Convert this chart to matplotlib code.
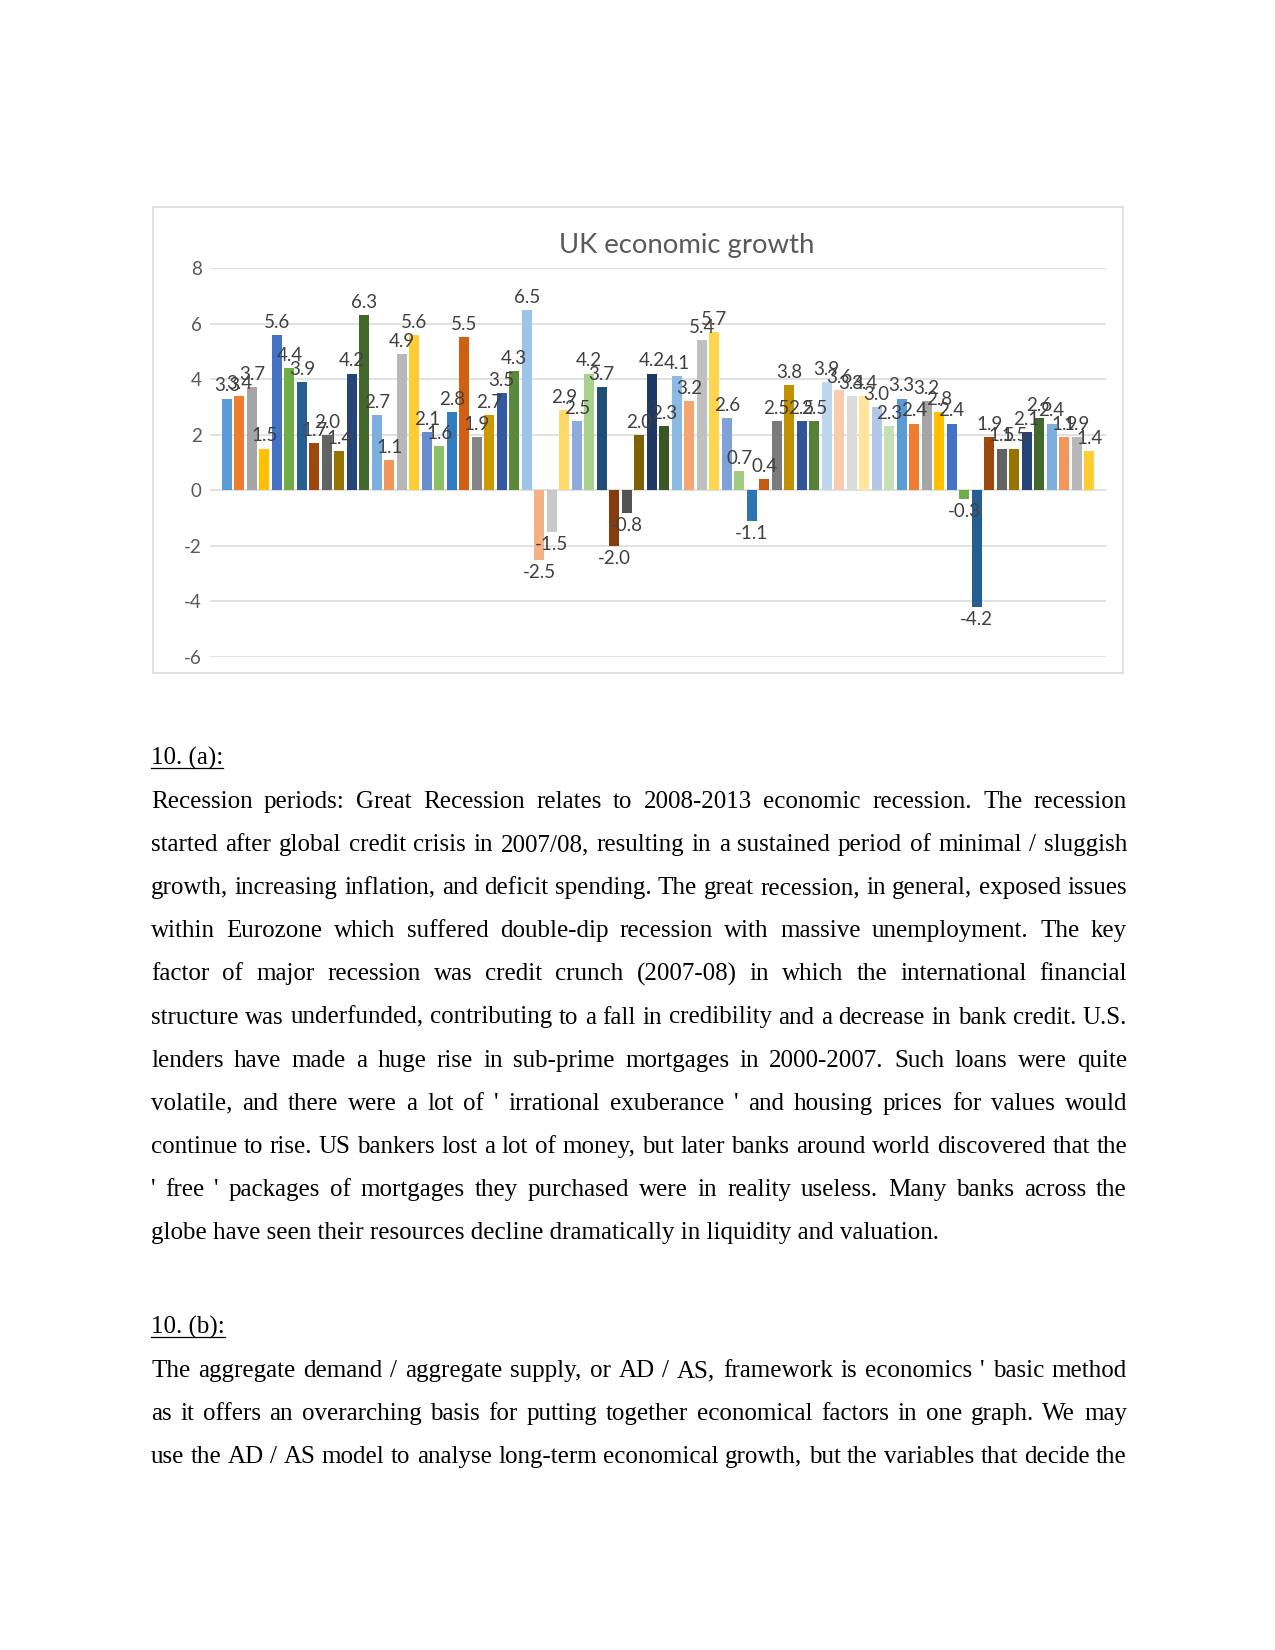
import matplotlib
matplotlib.use("Agg")
import matplotlib.pyplot as plt
from matplotlib.patches import Rectangle
from matplotlib.lines import Line2D

plt.rcParams["axes.unicode_minus"] = False

# ── data ──────────────────────────────────────────────────────────────────────
YEARS = list(range(1949, 2019))
GROWTH = [
    3.3, 3.4, 3.7, 1.5, 5.6, 4.4, 3.9, 1.7, 2.0, 1.4,
    4.2, 6.3, 2.7, 1.1, 4.9, 5.6, 2.1, 1.6, 2.8, 5.5,
    1.9, 2.7, 3.5, 4.3, 6.5, -2.5, -1.5, 2.9, 2.5, 4.2,
    3.7, -2.0, -0.8, 2.0, 4.2, 2.3, 4.1, 3.2, 5.4, 5.7,
    2.6, 0.7, -1.1, 0.4, 2.5, 3.8, 2.5, 2.5, 3.9, 3.6,
    3.4, 3.4, 3.0, 2.3, 3.3, 2.4, 3.2, 2.8, 2.4, -0.3,
    -4.2, 1.9, 1.5, 1.5, 2.1, 2.6, 2.4, 1.9, 1.9, 1.4,
]
TITLE = "UK economic growth"
Y_TICKS = [-6, -4, -2, 0, 2, 4, 6, 8]

# Excel series colour cycle (accents, then shades / tints)
PALETTE = [
    "#5B9BD5", "#ED7D31", "#A5A5A5", "#FFC000", "#4472C4", "#70AD47",
    "#255E91", "#9E480E", "#636363", "#997300", "#264478", "#43682B",
    "#7CAFDD", "#F1975A", "#B7B7B7", "#FFCD33", "#698ED0", "#8CC168",
    "#327DC2", "#D26012", "#848484", "#CC9A00", "#335AA1", "#5A8A39",
    "#9DC3E6", "#F4B183", "#C9C9C9", "#FFD966", "#8FAADC", "#A9D18E",
    "#1F4E79", "#843C0C", "#525252", "#7F6000", "#203864", "#385723",
    "#8CB9E2", "#F4A570", "#C0C0C0", "#FFD54F", "#7FA0D8", "#9FCB81",
    "#2E75B6", "#C55A11", "#7B7B7B", "#BF9000", "#2F5597", "#538135",
    "#BDD7EE", "#F8CBAD", "#DBDBDB", "#FFE699", "#B4C7E7", "#C5E0B4",
]

PARA_A_HEAD = "10. (a):"
PARA_A = [
    "Recession periods: Great Recession relates to 2008-2013 economic recession. The recession",
    "started after global credit crisis in 2007/08, resulting in a sustained period of minimal / sluggish",
    "growth, increasing inflation, and deficit spending. The great recession, in general, exposed issues",
    "within Eurozone which suffered double-dip recession with massive unemployment. The key",
    "factor of major recession was credit crunch (2007-08) in which the international financial",
    "structure was underfunded, contributing to a fall in credibility and a decrease in bank credit. U.S.",
    "lenders have made a huge rise in sub-prime mortgages in 2000-2007. Such loans were quite",
    "volatile, and there were a lot of ' irrational exuberance ' and housing prices for values would",
    "continue to rise. US bankers lost a lot of money, but later banks around world discovered that the",
    "' free ' packages of mortgages they purchased were in reality useless. Many banks across the",
    "globe have seen their resources decline dramatically in liquidity and valuation.",
]
PARA_B_HEAD = "10. (b):"
PARA_B = [
    "The aggregate demand / aggregate supply, or AD / AS, framework is economics ' basic method",
    "as it offers an overarching basis for putting together economical factors in one graph. We may",
    "use the AD / AS model to analyse long-term economical growth, but the variables that decide the",
]

W, H = 1275, 1650
TEXT_LEFT, TEXT_RIGHT = 151, 1127
LINE_GAP = 43.1
SERIF = "Liberation Serif"


def fx(px):
    return px / W


def fy(py):
    return 1 - py / H


def draw_justified(fig, renderer, line, baseline, justify=True):
    if not justify:
        fig.text(fx(TEXT_LEFT), fy(baseline), line, family=SERIF, fontsize=12,
                 ha="left", va="baseline", color="black")
        return
    words = line.split(" ")
    texts = [fig.text(0, fy(baseline), w, family=SERIF, fontsize=12,
                      ha="left", va="baseline", color="black") for w in words]
    widths = [t.get_window_extent(renderer).width for t in texts]
    gap = (TEXT_RIGHT - TEXT_LEFT - sum(widths)) / max(len(words) - 1, 1)
    x = TEXT_LEFT
    for t, w in zip(texts, widths):
        t.set_x(fx(x))
        x += w + gap


def draw_heading(fig, renderer, label, baseline):
    t = fig.text(fx(TEXT_LEFT), fy(baseline), label, family=SERIF, fontsize=12,
                 ha="left", va="baseline", color="black")
    w = t.get_window_extent(renderer).width
    fig.add_artist(Line2D([fx(TEXT_LEFT), fx(TEXT_LEFT + w)],
                          [fy(baseline + 3), fy(baseline + 3)],
                          transform=fig.transFigure, color="black", lw=0.6))


def main():
    fig = plt.figure(figsize=(W / 150, H / 150), dpi=150)
    renderer = fig.canvas.get_renderer()

    # chart border
    fig.add_artist(Rectangle((fx(153), fy(673)), fx(1123) - fx(153), fy(207) - fy(673),
                             transform=fig.transFigure, fill=False,
                             edgecolor="#D9D9D9", lw=0.75))

    ax = fig.add_axes([fx(210), fy(657), fx(1106) - fx(210), fy(268) - fy(657)])
    xs = list(range(len(GROWTH)))
    colors = [PALETTE[i % len(PALETTE)] for i in xs]
    bars = ax.bar(xs, GROWTH, width=0.8, color=colors, zorder=2)
    ax.bar_label(bars, fmt="%.1f", padding=2, fontsize=9, family="Lato",
                 color="#404040")

    ax.set_xlim(-1.35, len(GROWTH) - 1 + 1.35)
    ax.set_ylim(-6, 8)
    ax.set_yticks(Y_TICKS)
    ax.set_xticks([])
    ax.grid(axis="y", color="#D9D9D9", lw=0.75, zorder=0)
    ax.set_axisbelow(True)
    for s in ax.spines.values():
        s.set_visible(False)
    ax.tick_params(axis="y", length=0, pad=4, labelsize=9, labelcolor="#595959")
    for lab in ax.get_yticklabels():
        lab.set_family("Lato")

    fig.text(fx(687), fy(253), TITLE, family="Lato", fontsize=13.2, color="#595959",
             ha="center", va="baseline")

    # text below chart
    draw_heading(fig, renderer, PARA_A_HEAD, 765)
    for i, line in enumerate(PARA_A):
        draw_justified(fig, renderer, line, 808 + i * LINE_GAP,
                       justify=(i < len(PARA_A) - 1))

    draw_heading(fig, renderer, PARA_B_HEAD, 1334)
    for i, line in enumerate(PARA_B):
        draw_justified(fig, renderer, line, 1377 + i * LINE_GAP)

    fig.savefig("out.png", dpi=150, facecolor="white")
    plt.close(fig)


if __name__ == "__main__":
    main()
